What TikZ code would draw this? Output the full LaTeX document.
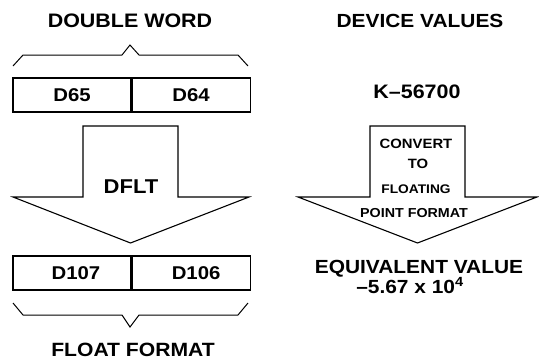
\documentclass[tikz,border=0pt]{standalone}
\usepackage{fontspec}
\setmainfont{Liberation Sans}
\usetikzlibrary{positioning}
\newcommand{\wide}[1]{\scalebox{1.1}[1]{#1}}
\tikzset{
    heading/.style={
        anchor=base, inner sep=0pt,
        font=\bfseries\fontsize{19.5}{22}\selectfont
    },
    note/.style={
        anchor=base, inner sep=0pt,
        font=\bfseries\fontsize{13.5}{15}\selectfont
    },
    cell/.style={
        rectangle, draw=black, line width=1.1pt,
        minimum width=118pt, minimum height=34pt, inner sep=0pt,
        font=\bfseries\fontsize{18.5}{20}\selectfont
    },
    blockarrow/.style={draw=black, line width=1.1pt, line join=miter},
    brace/.style={draw=black, line width=1pt}
}

\begin{document}
\begin{tikzpicture}[x=1pt, y=-1pt]
    \useasboundingbox (0,0) rectangle (539,362);

    % left column: register to register
    \node[heading] (dword) at (130,27) {\wide{DOUBLE WORD}};
    \draw[brace] (13,66) -- (23,55) -- (122,55) -- (130,45) -- (139,55) -- (238,55) -- (248,66);
    \node[cell] (d65) at (72,95) {\wide{D65}};
    \node[cell, right=0pt of d65] (d64) {\wide{D64}\hspace{6pt}};

    \draw[blockarrow] (83,126) -- (178,126) -- (178,197) -- (249,197)
        -- (130.5,243) -- (13,197) -- (83,197) -- cycle;
    \node[heading, font=\bfseries\fontsize{20}{22}\selectfont] (dflt) at (131,193) {\wide{DFLT}};

    \node[cell] (d107) at (72,273) {\hspace{8pt}\wide{D107}};
    \node[cell, right=0pt of d107] (d106) {\hspace{10pt}\wide{D106}};
    \draw[brace] (13,303) -- (23,315) -- (122,315) -- (130,327) -- (139,315) -- (238,315) -- (248,303);
    \node[heading, font=\bfseries\fontsize{19.2}{22}\selectfont] (ffmt) at (133,356) {\wide{FLOAT FORMAT}};

    % right column: constant to value
    \node[heading, font=\bfseries\fontsize{19}{22}\selectfont] (dvals) at (420,27) {\wide{DEVICE VALUES}};
    \node[heading] (kval) at (417,98) {\wide{K--56700}};

    \draw[blockarrow] (370,126) -- (465,126) -- (465,197) -- (537,197)
        -- (417.5,243) -- (298,197) -- (370,197) -- cycle;
    \node[note] (conv) at (416,148) {\wide{CONVERT}};
    \node[note] (to) at (418,168) {\wide{TO}};
    \node[note, font=\bfseries\fontsize{12.5}{14}\selectfont] (flt) at (416,193) {\wide{FLOATING}};
    \node[note, font=\bfseries\fontsize{13}{15}\selectfont] (pfmt) at (414,217) {\wide{POINT FORMAT}};

    \node[heading, font=\bfseries\fontsize{19}{21}\selectfont] (equiv) at (419,273) {\wide{EQUIVALENT VALUE}};
    \node[heading, font=\bfseries\fontsize{19}{21}\selectfont] (result) at (410,293) {\wide{--5.67 x 10\textsuperscript{4}}};
\end{tikzpicture}
\end{document}
